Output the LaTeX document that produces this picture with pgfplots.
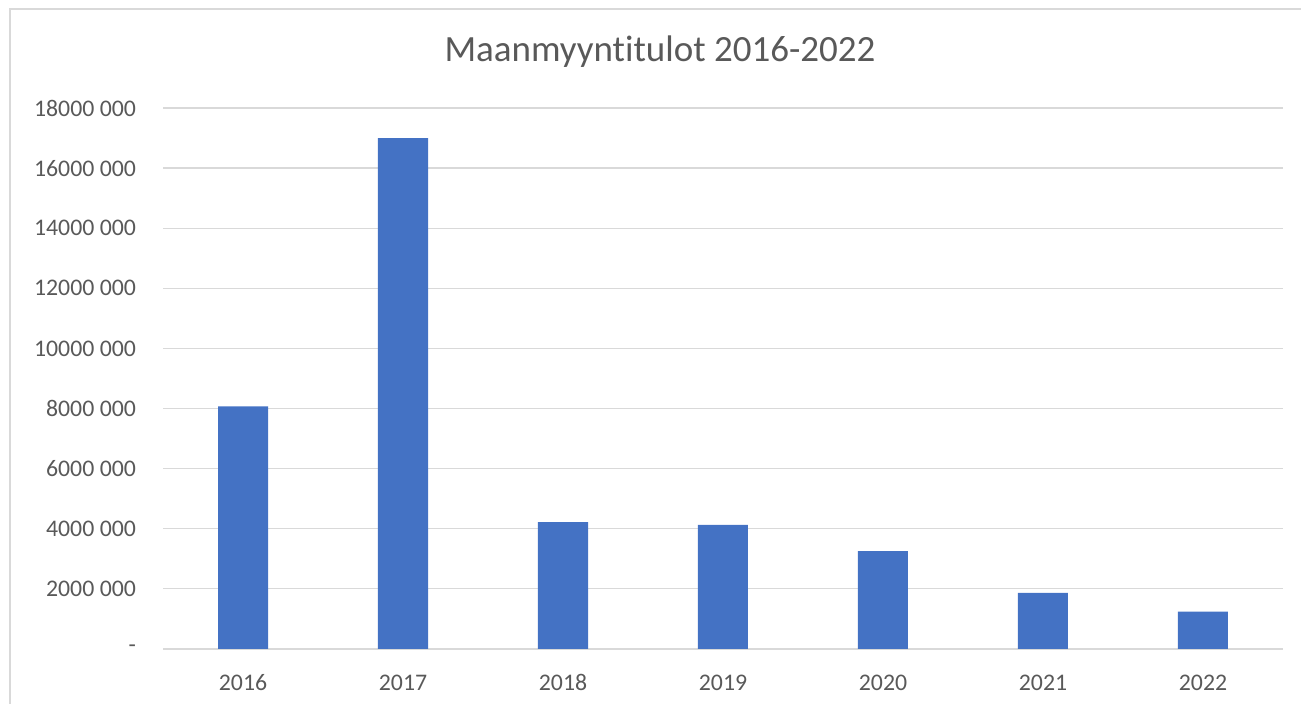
\documentclass[border=0pt]{standalone}
\usepackage{pgfplots}
\pgfplotsset{compat=1.18}
\usepackage{fontspec}
\setmainfont{Carlito}[Ligatures=NoCommon]
\definecolor{barblue}{HTML}{4472C4}
\definecolor{gridgray}{HTML}{D9D9D9}
\definecolor{txtgray}{HTML}{595959}
\definecolor{framegray}{HTML}{D9D9D9}
\begin{document}
\begin{tikzpicture}
\useasboundingbox (0,0) rectangle (650.5pt,352pt);
\draw[framegray, line width=0.8pt] (5pt,0pt) -- (5pt,347.5pt) -- (650.5pt,347.5pt);
\begin{axis}[
  at={(81.5pt,27.5pt)}, anchor=south west,
  scale only axis, width=560pt, height=270.5pt,
  xmin=-0.5, xmax=6.5, ymin=0, ymax=18000000,
  ybar, bar width=25pt,
  axis line style={draw=none},
  major tick length=0pt,
  ymajorgrids, grid style={gridgray, line width=0.6pt},
  xtick=data,
  xticklabels={2016,2017,2018,2019,2020,2021,2022},
  ytick={0,2000000,4000000,6000000,8000000,10000000,12000000,14000000,16000000,18000000},
  yticklabels={{-\hspace{5.5pt}},2000 000,4000 000,6000 000,8000 000,10000 000,12000 000,14000 000,16000 000,18000 000},
  scaled y ticks=false,
  tick label style={font=\fontsize{11.9pt}{14pt}\selectfont, text=txtgray},
  yticklabel style={xshift=-10pt},
  xticklabel style={yshift=-8.5pt, text height=8.5pt, text depth=0pt},
  clip=false,
]
\addplot[fill=barblue, draw=none, bar shift=0pt] coordinates {
  (0,8070000) (1,17000000) (2,4220000) (3,4130000) (4,3260000) (5,1870000) (6,1240000)
};
\end{axis}
\node[text=txtgray, font=\fontsize{18.5pt}{22pt}\selectfont] at (330pt,326pt) {Maanmyyntitulot 2016-2022};
\end{tikzpicture}
\end{document}
